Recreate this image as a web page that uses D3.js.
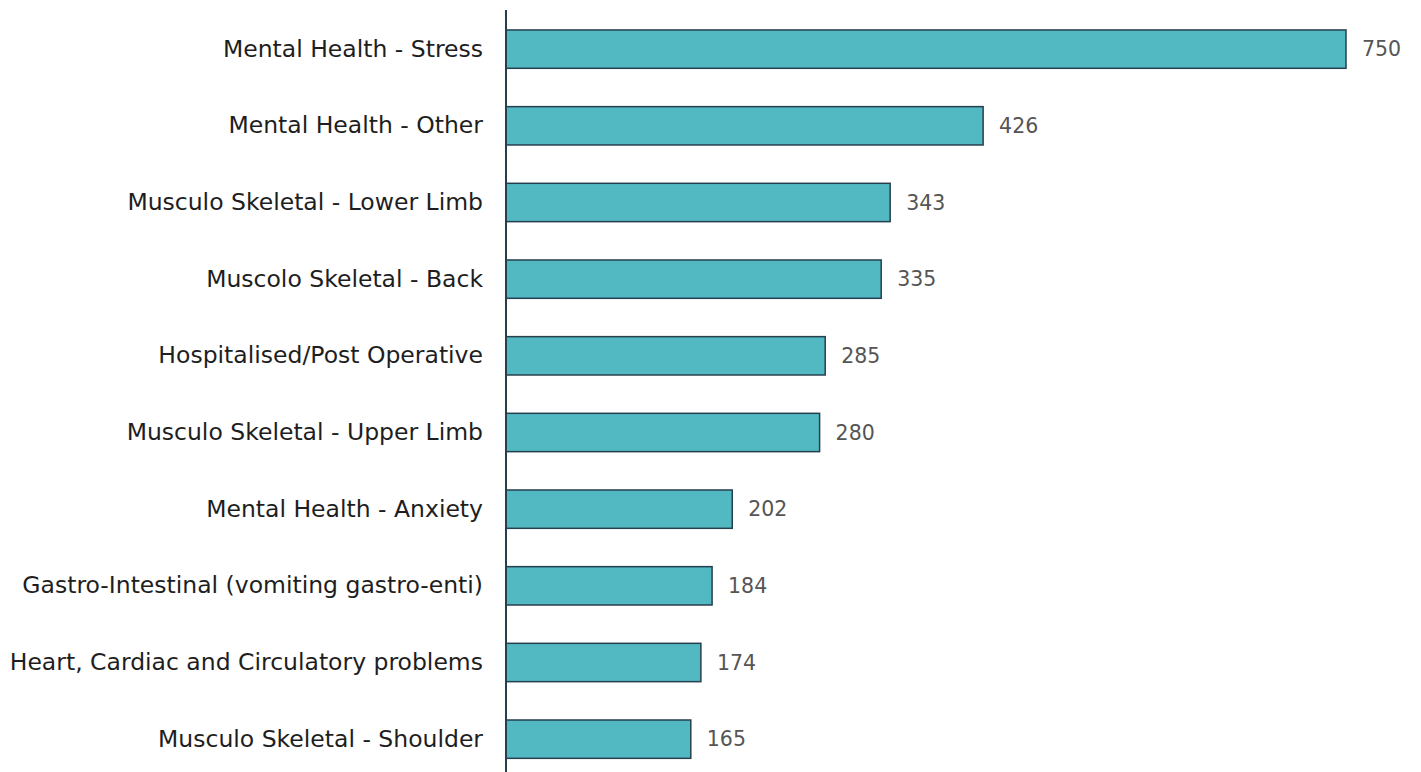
<!DOCTYPE html>
<html>
<head>
<meta charset="utf-8">
<script src="https://cdn.jsdelivr.net/npm/d3@7"></script>
<style>
  html, body { margin: 0; padding: 0; background: #ffffff; }
  svg { display: block; }
  .cat { font-family: "DejaVu Sans", sans-serif; font-size: 23.5px; fill: #1e1e1e; }
  .val { font-family: "DejaVu Sans", sans-serif; font-size: 20.5px; fill: #555555; }
</style>
</head>
<body>
<svg id="chart" width="1421" height="772"></svg>
<script>
// Absence reasons and number of cases
const categories = [
  "Mental Health - Stress",
  "Mental Health - Other",
  "Musculo Skeletal - Lower Limb",
  "Muscolo Skeletal - Back",
  "Hospitalised/Post Operative",
  "Musculo Skeletal - Upper Limb",
  "Mental Health - Anxiety",
  "Gastro-Intestinal (vomiting gastro-enti)",
  "Heart, Cardiac and Circulatory problems",
  "Musculo Skeletal - Shoulder"
];
const values = [750, 426, 343, 335, 285, 280, 202, 184, 174, 165];

const svg = d3.select("#chart");
const axisX = 506;

const x = d3.scaleLinear().domain([0, 750]).range([axisX, 1346]);
const y = d3.scaleBand()
  .domain(categories)
  .range([10.8, 777.5])
  .paddingInner(0.5)
  .paddingOuter(0.25);

const rows = categories.map((c, i) => ({ cat: c, val: values[i] }));

// bars
svg.append("g").selectAll("rect")
  .data(rows)
  .join("rect")
  .attr("x", x(0))
  .attr("y", d => y(d.cat))
  .attr("width", d => x(d.val) - x(0))
  .attr("height", y.bandwidth())
  .attr("fill", "#52b9c3")
  .attr("stroke", "#263f4d")
  .attr("stroke-width", 1.5);

// category axis
const yAxis = d3.axisLeft(y).tickSize(0).tickPadding(23);
const gy = svg.append("g").attr("transform", `translate(${axisX},0)`).call(yAxis);
gy.select(".domain").attr("stroke", "#263f4d").attr("stroke-width", 2)
  .attr("d", `M0,10V772`);
gy.selectAll("text").attr("class", "cat").attr("fill", null).attr("font-size", null).attr("font-family", null);

// value labels
svg.append("g").selectAll("text")
  .data(rows)
  .join("text")
  .attr("class", "val")
  .attr("x", d => x(d.val) + 16)
  .attr("y", d => y(d.cat) + y.bandwidth() / 2)
  .attr("dy", "0.35em")
  .text(d => d.val);
</script>
</body>
</html>
